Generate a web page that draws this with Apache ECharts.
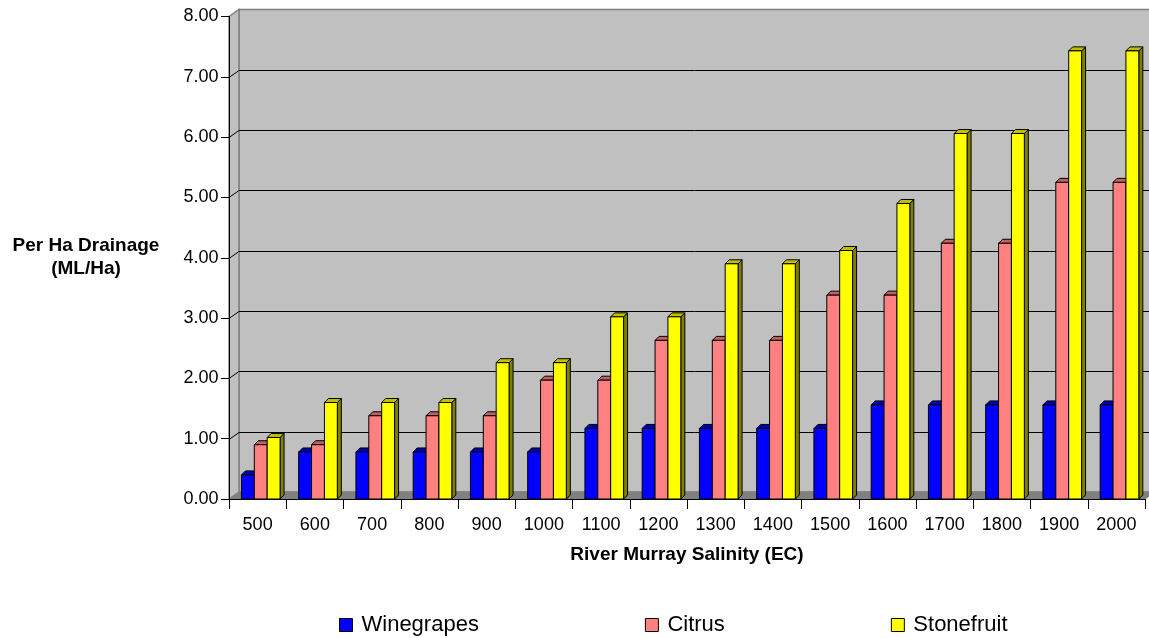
<!DOCTYPE html>
<html>
<head>
<meta charset="utf-8">
<title>Per Ha Drainage vs River Murray Salinity</title>
<script src="https://cdn.jsdelivr.net/npm/echarts@6/dist/echarts.min.js"></script>
<style>
  html, body { margin: 0; padding: 0; background: #fff; }
  #chart { width: 1149px; height: 638px; }
</style>
</head>
<body>
<div id="chart"></div>
<script>
// Salinity levels (EC) along the horizontal axis
const categories = ['500', '600', '700', '800', '900', '1000', '1100', '1200',
  '1300', '1400', '1500', '1600', '1700', '1800', '1900', '2000'];

// Per hectare drainage (ML/Ha) for each crop
const winegrapes = [0.40, 0.78, 0.78, 0.78, 0.78, 0.78, 1.17, 1.17,
  1.17, 1.17, 1.17, 1.56, 1.56, 1.56, 1.56, 1.56];
const citrus = [0.90, 0.90, 1.38, 1.38, 1.38, 1.97, 1.97, 2.63,
  2.63, 2.63, 3.38, 3.38, 4.24, 4.24, 5.25, 5.25];
const stonefruit = [1.02, 1.60, 1.60, 1.60, 2.26, 2.26, 3.02, 3.02,
  3.90, 3.90, 4.12, 4.90, 6.06, 6.06, 7.43, 7.43];

// Value axis ticks
const yTicks = [0, 1, 2, 3, 4, 5, 6, 7, 8];

const FONT = '"Liberation Sans", Arial, sans-serif';
// depth offsets of the pseudo-3D box and bars
const WALL_DX = 10, WALL_DY = -7;
const BAR_DX = 4, BAR_DY = -4;

const palettes = [
  { name: 'Winegrapes', front: '#0000FF', top: '#0000B0', side: '#000080' },
  { name: 'Citrus',     front: '#FF8080', top: '#C06060', side: '#804040' },
  { name: 'Stonefruit', front: '#FFFF00', top: '#C0C000', side: '#808000' }
];
const seriesData = [winegrapes, citrus, stonefruit];

// Back wall, side wall, floor and gridlines of the 3D box
function renderWalls(params, api) {
  const cs = params.coordSys;
  const x0 = cs.x, x1 = cs.x + cs.width;
  const yBottom = api.coord([0, 0])[1];
  const yTop = api.coord([0, yTicks[yTicks.length - 1]])[1];
  const children = [];
  // back wall
  children.push({
    type: 'polygon',
    shape: { points: [[x0 + WALL_DX, yTop + WALL_DY], [x1 + WALL_DX, yTop + WALL_DY],
      [x1 + WALL_DX, yBottom + WALL_DY], [x0 + WALL_DX, yBottom + WALL_DY]] },
    style: { fill: '#C0C0C0', stroke: '#808080', lineWidth: 1.5 }
  });
  // left side wall
  children.push({
    type: 'polygon',
    shape: { points: [[x0, yTop], [x0 + WALL_DX, yTop + WALL_DY],
      [x0 + WALL_DX, yBottom + WALL_DY], [x0, yBottom]] },
    style: { fill: '#C0C0C0', stroke: '#808080', lineWidth: 1.5 }
  });
  // floor
  children.push({
    type: 'polygon',
    shape: { points: [[x0, yBottom], [x0 + WALL_DX, yBottom + WALL_DY],
      [x1 + WALL_DX, yBottom + WALL_DY], [x1, yBottom]] },
    style: { fill: '#808080', stroke: '#808080', lineWidth: 1 }
  });
  // gridlines on the back wall plus their slanted continuation on the side wall
  yTicks.forEach(function (t) {
    if (t === 0 || t === yTicks[yTicks.length - 1]) return;
    const y = Math.round(api.coord([0, t])[1]) + 0.5;
    children.push({
      type: 'polyline',
      shape: { points: [[x0, y], [x0 + WALL_DX, y + WALL_DY], [x1 + WALL_DX, y + WALL_DY]] },
      style: { stroke: '#000', lineWidth: 1, fill: null }
    });
  });
  return { type: 'group', children: children };
}

// One 3D bar: front face, top cap and right-hand side face
function makeBarRenderer(k) {
  const pal = palettes[k];
  return function (params, api) {
    const idx = api.value(0);
    const v = api.value(1);
    const base = api.coord([idx, 0]);
    const top = api.coord([idx, v]);
    const cw = api.size([1, 0])[0];
    const w = cw * 0.225;
    const x = base[0] - cw / 2 + cw * 0.217 + k * w;
    const y0 = base[1], y1 = top[1];
    const stroke = { stroke: '#000', lineWidth: 1, lineJoin: 'round' };
    return {
      type: 'group',
      children: [
        {
          type: 'polygon',
          shape: { points: [[x + w, y1], [x + w + BAR_DX, y1 + BAR_DY],
            [x + w + BAR_DX, y0 + BAR_DY], [x + w, y0]] },
          style: Object.assign({ fill: pal.side }, stroke)
        },
        {
          type: 'polygon',
          shape: { points: [[x, y1], [x + BAR_DX, y1 + BAR_DY],
            [x + w + BAR_DX, y1 + BAR_DY], [x + w, y1]] },
          style: Object.assign({ fill: pal.top }, stroke)
        },
        {
          type: 'rect',
          shape: { x: x, y: y1, width: w, height: y0 - y1 },
          style: Object.assign({ fill: pal.front }, stroke)
        }
      ]
    };
  };
}

const chart = echarts.init(document.getElementById('chart'), null, { renderer: 'canvas' });

const series = [{
  name: 'walls',
  type: 'custom',
  renderItem: renderWalls,
  data: [[0, 0]],
  clip: false,
  silent: true,
  z: 1,
  legendHoverLink: false
}];
palettes.forEach(function (pal, k) {
  series.push({
    name: pal.name,
    type: 'custom',
    renderItem: makeBarRenderer(k),
    data: seriesData[k].map(function (v, i) { return [i, v]; }),
    encode: { x: 0, y: 1 },
    itemStyle: { color: pal.front, borderColor: '#000', borderWidth: 1 },
    clip: false,
    z: 3 + k
  });
});

chart.setOption({
  animation: false,
  backgroundColor: '#ffffff',
  textStyle: { fontFamily: FONT },
  grid: { left: 229, right: 4, top: 16.5, bottom: 139, containLabel: false },
  legend: {
    data: palettes.map(function (p) { return p.name; }),
    left: 334,
    top: 609,
    icon: 'rect',
    itemWidth: 13,
    itemHeight: 13,
    itemGap: 166,
    itemStyle: { borderColor: '#000', borderWidth: 1 },
    textStyle: { fontFamily: FONT, fontSize: 22, color: '#000', padding: [0, 0, 0, 4] }
  },
  xAxis: {
    type: 'category',
    data: categories,
    boundaryGap: true,
    name: 'River Murray Salinity (EC)',
    nameLocation: 'middle',
    nameGap: 46,
    nameTextStyle: { fontFamily: FONT, fontSize: 19, fontWeight: 'bold', color: '#000' },
    axisLine: { show: true, lineStyle: { color: '#000', width: 1 } },
    axisTick: { show: true, length: 10, alignWithLabel: false, lineStyle: { color: '#000' } },
    axisLabel: { fontFamily: FONT, fontSize: 18, color: '#000', margin: 17 },
    splitLine: { show: false },
    z: 10
  },
  yAxis: {
    type: 'value',
    min: 0,
    max: 8,
    interval: 1,
    name: 'Per Ha Drainage\n(ML/Ha)',
    nameLocation: 'middle',
    nameRotate: 0,
    nameGap: 143,
    nameTextStyle: { fontFamily: FONT, fontSize: 19, fontWeight: 'bold', color: '#000',
      align: 'center', lineHeight: 23 },
    axisLine: { show: true, lineStyle: { color: '#000', width: 1 } },
    axisTick: { show: true, length: 8, lineStyle: { color: '#000' } },
    axisLabel: {
      fontFamily: FONT, fontSize: 18, color: '#000', margin: 10.5,
      formatter: function (v) { return v.toFixed(2); }
    },
    splitLine: { show: false },
    z: 10
  },
  series: series
});
</script>
</body>
</html>
